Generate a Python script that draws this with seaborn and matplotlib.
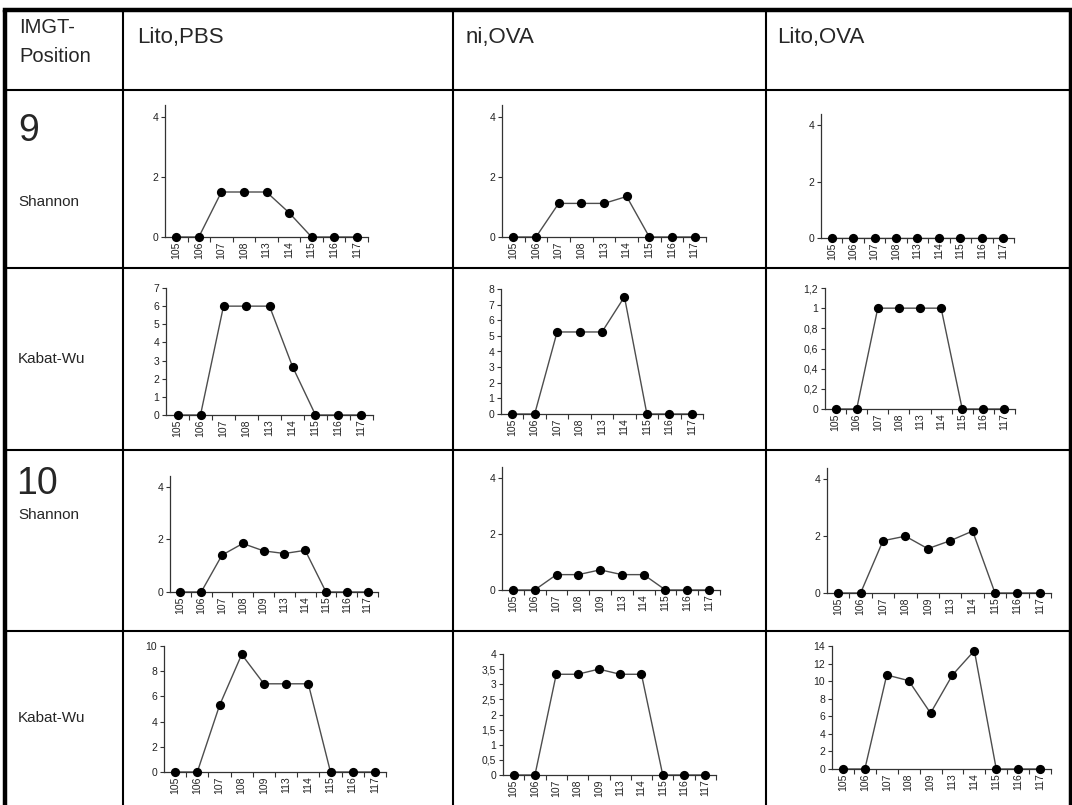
import numpy as np
import pandas as pd
import matplotlib
matplotlib.use("Agg")
import matplotlib.pyplot as plt
import seaborn as sns

sns.set_theme(style="white")
plt.rcParams["font.family"] = ["Liberation Sans", "DejaVu Sans"]

# IMGT positions shown on the category axes
cats_pos9 = ["105", "106", "107", "108", "113", "114", "115", "116", "117"]
cats_pos10 = ["105", "106", "107", "108", "109", "113", "114", "115", "116", "117"]

# Variability per position: CDR position 9
shannon9_lito_pbs = [0, 0, 1.5, 1.5, 1.5, 0.81, 0, 0, 0]
shannon9_ni_ova = [0, 0, 1.12, 1.12, 1.12, 1.35, 0, 0, 0]
shannon9_lito_ova = [0, 0, 0, 0, 0, 0, 0, 0, 0]
kabat9_lito_pbs = [0, 0, 6, 6, 6, 2.67, 0, 0, 0]
kabat9_ni_ova = [0, 0, 5.25, 5.25, 5.25, 7.5, 0, 0, 0]
kabat9_lito_ova = [0, 0, 1, 1, 1, 1, 0, 0, 0]

# Variability per position: CDR position 10
shannon10_lito_pbs = [0, 0, 1.4, 1.84, 1.56, 1.46, 1.58, 0, 0, 0]
shannon10_ni_ova = [0, 0, 0.55, 0.55, 0.72, 0.55, 0.55, 0, 0, 0]
shannon10_lito_ova = [0, 0, 1.84, 2.0, 1.56, 1.84, 2.18, 0, 0, 0]
kabat10_lito_pbs = [0, 0, 5.28, 9.33, 7, 7, 7, 0, 0, 0]
kabat10_ni_ova = [0, 0, 3.33, 3.33, 3.5, 3.33, 3.33, 0, 0, 0]
kabat10_lito_ova = [0, 0, 10.7, 10.06, 6.36, 10.7, 13.47, 0, 0, 0]

# Table text
column_titles = ["Lito,PBS", "ni,OVA", "Lito,OVA"]
corner_title = ["IMGT-", "Position"]
position_labels = ["9", "10"]
index_names = ["Shannon", "Kabat-Wu"]

# Value-axis tick sets
ticks_shannon = [0, 2, 4]
ticks_k9_lp = [0, 1, 2, 3, 4, 5, 6, 7]
ticks_k9_no = [0, 1, 2, 3, 4, 5, 6, 7, 8]
ticks_k9_lo = [0, 0.2, 0.4, 0.6, 0.8, 1.0, 1.2]
ticks_k10_lp = [0, 2, 4, 6, 8, 10]
ticks_k10_no = [0, 0.5, 1, 1.5, 2, 2.5, 3, 3.5, 4]
ticks_k10_lo = [0, 2, 4, 6, 8, 10, 12, 14]

W, H = 1072, 805
fig = plt.figure(figsize=(W / 100, H / 100), dpi=100)
fig.patch.set_facecolor("white")

# Full-figure layer for the table grid and cell text (pixel coordinates)
bg = fig.add_axes([0, 0, 1, 1])
bg.set_xlim(0, W)
bg.set_ylim(H, 0)
bg.axis("off")

col_x = [5, 123, 453, 766, 1070]
row_y = [10, 90, 268, 450, 631, H]

# outer frame
bg.plot([col_x[0], col_x[0]], [row_y[0], H], color="black", lw=3.2, solid_capstyle="butt")
bg.plot([col_x[0], col_x[-1]], [row_y[0], row_y[0]], color="black", lw=3.2, solid_capstyle="projecting")
bg.plot([col_x[-1], col_x[-1]], [row_y[0], H], color="black", lw=2.5, solid_capstyle="butt")
# inner grid
for x in col_x[1:-1]:
    bg.plot([x, x], [row_y[0], H], color="black", lw=1.5, solid_capstyle="butt")
for y in row_y[1:-1]:
    bg.plot([col_x[0], col_x[-1]], [y, y], color="black", lw=1.5, solid_capstyle="butt")

# header row
bg.text(19, 33, corner_title[0], fontsize=14.5, va="baseline", ha="left")
bg.text(19, 62, corner_title[1], fontsize=14.5, va="baseline", ha="left")
for x, t in zip([137, 466, 777], column_titles):
    bg.text(x, 43, t, fontsize=16, va="baseline", ha="left")

# first column
bg.text(18, 141, position_labels[0], fontsize=27, va="baseline", ha="left")
bg.text(18, 206, index_names[0], fontsize=11, va="baseline", ha="left")
bg.text(18, 359, index_names[1], fontsize=11, va="center", ha="left")
bg.text(16, 494, position_labels[1], fontsize=27, va="baseline", ha="left")
bg.text(18, 519, index_names[0], fontsize=11, va="baseline", ha="left")
bg.text(18, 718, index_names[1], fontsize=11, va="center", ha="left")


def fmt(v):
    s = f"{v:g}"
    return s.replace(".", ",")


def panel(box, cats, values, yticks, ymax):
    left, right, top, bottom = box
    ax = fig.add_axes([left / W, 1 - bottom / H, (right - left) / W, (bottom - top) / H])
    df = pd.DataFrame({"pos": cats, "val": values})
    sns.lineplot(data=df, x="pos", y="val", ax=ax, color="#4d4d4d", lw=1.0, sort=False)
    sns.scatterplot(data=df, x="pos", y="val", ax=ax, color="black", s=44,
                    edgecolor="black", linewidth=0, zorder=3, clip_on=False)
    n = len(cats)
    ax.set_xlim(-0.5, n - 0.5)
    ax.set_ylim(0, ymax)
    ax.set_xlabel("")
    ax.set_ylabel("")
    ax.set_yticks(yticks)
    ax.set_yticklabels([fmt(v) for v in yticks])
    ax.set_xticks(range(n))
    ax.set_xticklabels(cats, rotation=90)
    ax.set_xticks(np.arange(0.5, n, 1.0), minor=True)
    for side in ("top", "right"):
        ax.spines[side].set_visible(False)
    for side in ("left", "bottom"):
        ax.spines[side].set_color("#333333")
        ax.spines[side].set_linewidth(0.9)
    ax.tick_params(axis="y", which="major", direction="out", length=3, width=0.8,
                   color="#333333", labelsize=7.5, labelcolor="#222222", pad=2, left=True)
    ax.tick_params(axis="x", which="major", length=0, labelsize=7.5,
                   labelcolor="#222222", pad=3, bottom=True)
    ax.tick_params(axis="x", which="minor", direction="out", length=3.5, width=0.8,
                   color="#333333", bottom=True)
    ax.patch.set_alpha(0)
    ax.grid(False)
    return ax


# (left, right, top, bottom) of each plotting area
panel((165, 368, 105, 237), cats_pos9, shannon9_lito_pbs, ticks_shannon, 4.4)
panel((502, 706, 105, 237), cats_pos9, shannon9_ni_ova, ticks_shannon, 4.4)
panel((821, 1014, 114, 238), cats_pos9, shannon9_lito_ova, ticks_shannon, 4.4)

panel((166, 373, 288, 415), cats_pos9, kabat9_lito_pbs, ticks_k9_lp, 7)
panel((501, 703, 289, 414), cats_pos9, kabat9_ni_ova, ticks_k9_no, 8)
panel((825, 1015, 288, 409), cats_pos9, kabat9_lito_ova, ticks_k9_lo, 1.2)

panel((170, 378, 476, 592), cats_pos10, shannon10_lito_pbs, ticks_shannon, 4.4)
panel((502, 720, 467, 590), cats_pos10, shannon10_ni_ova, ticks_shannon, 4.4)
panel((827, 1051, 468, 593), cats_pos10, shannon10_lito_ova, ticks_shannon, 4.4)

panel((164, 386, 646, 772), cats_pos10, kabat10_lito_pbs, ticks_k10_lp, 10)
panel((503, 716, 654, 775), cats_pos10, kabat10_ni_ova, ticks_k10_no, 4)
panel((832, 1051, 646, 769), cats_pos10, kabat10_lito_ova, ticks_k10_lo, 14)

fig.savefig("out.png", dpi=100, facecolor="white")
